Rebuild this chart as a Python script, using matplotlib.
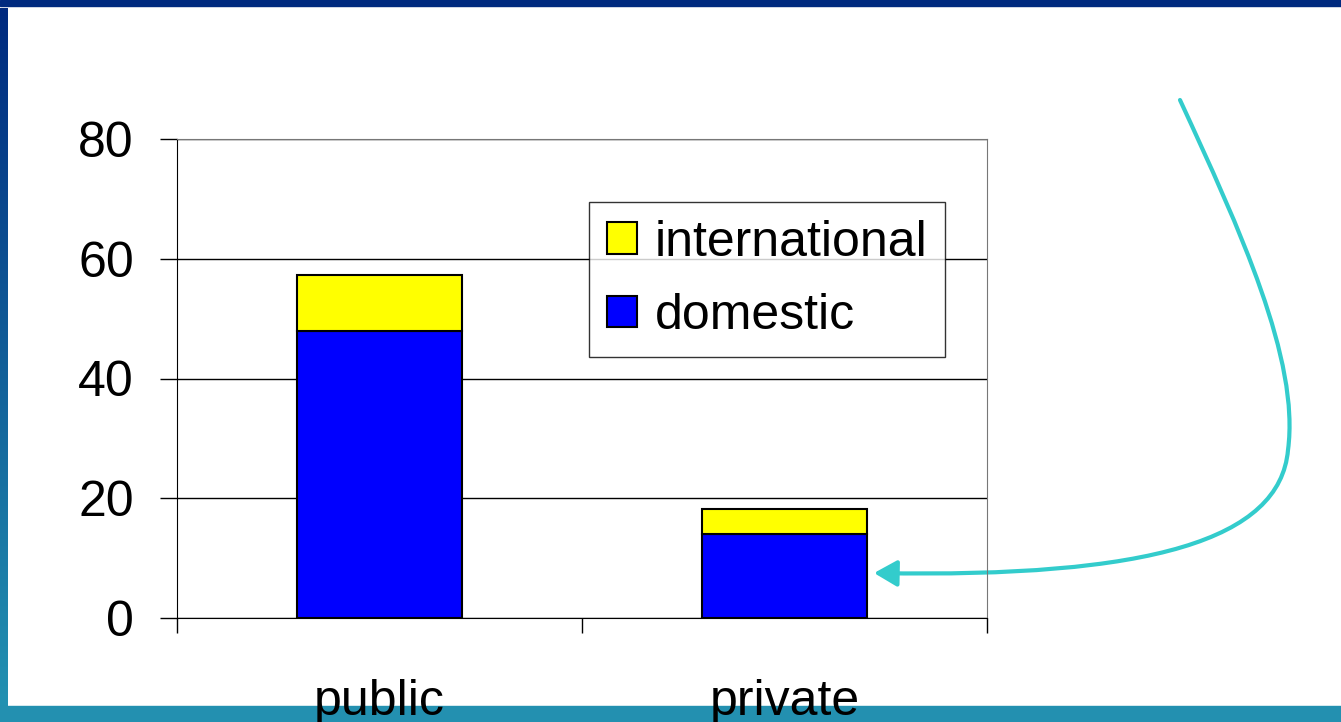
import matplotlib
matplotlib.use("Agg")
import matplotlib.pyplot as plt
import numpy as np
from matplotlib.path import Path
from matplotlib.patches import FancyArrowPatch, Rectangle

plt.rcParams['font.family'] = ['Liberation Sans', 'DejaVu Sans']

# data
categories = ['public', 'private']
domestic = [48.0, 14.0]
international = [9.3, 4.2]
y_ticks = [0, 20, 40, 60, 80]

W, H = 1341, 722
fig = plt.figure(figsize=(W / 100, H / 100), dpi=100)
fig.patch.set_facecolor('white')

def px(x, y):
    # pixel (from top-left) -> figure fraction
    return (x / W, 1 - y / H)

# slide decoration: left gradient bar, top and bottom bars
grad = fig.add_axes([0, 14 / H, 8 / W, 1 - 22 / H])
g = np.linspace(0, 1, 256).reshape(-1, 1)
cmap = matplotlib.colors.LinearSegmentedColormap.from_list('slide', ['#002a7f', '#2392b2'])
grad.imshow(g, aspect='auto', cmap=cmap, extent=[0, 1, 0, 1])
grad.set_axis_off()
fig.patches.append(Rectangle((0, 1 - 6 / H), 1, 6 / H, transform=fig.transFigure,
                             color='#002a7f', zorder=0))
fig.patches.append(Rectangle((0, 0), 1, 16 / H, transform=fig.transFigure,
                             color='#2390b0', zorder=0))

# chart
x0, y0 = px(177, 618)
x1, y1 = px(987, 139)
ax = fig.add_axes([x0, y0, x1 - x0, y1 - y0])
ax.set_zorder(2)
ax.patch.set_alpha(0)
x = np.arange(len(categories))
ax.bar(x, domestic, width=0.405, color='#0000ff', edgecolor='black', linewidth=1.5,
       label='domestic', zorder=3)
ax.bar(x, international, width=0.405, bottom=domestic, color='#ffff00', edgecolor='black',
       linewidth=1.5, label='international', zorder=3)

ax.set_xlim(-0.5, 1.5)
ax.set_ylim(0, 80)
ax.set_yticks(y_ticks)
ax.yaxis.grid(True, color='black', linewidth=1)
ax.set_axisbelow(True)
ax.tick_params(axis='y', direction='out', length=12, width=1, pad=19, labelsize=36)
ax.set_xticks(x)
ax.set_xticklabels(categories)
ax.set_xticks([-0.5, 0.5, 1.5], minor=True)
ax.tick_params(axis='x', which='major', length=0, pad=44, labelsize=36)
ax.tick_params(axis='x', which='minor', direction='out', length=11, width=1)
for s in ['left', 'bottom']:
    ax.spines[s].set_color('black')
for s in ['top', 'right']:
    ax.spines[s].set_color('#777777')

h, l = ax.get_legend_handles_labels()
leg = ax.legend(h[::-1], l[::-1], loc='upper left', bbox_to_anchor=(0.509, 0.868),
                fontsize=36, frameon=True, fancybox=False, handlelength=0.6,
                handleheight=0.6, handletextpad=0.36, borderpad=0.35, labelspacing=0.55,
                borderaxespad=0)
leg.get_frame().set_edgecolor('black')
leg.get_frame().set_linewidth(1)

# cyan curved arrow
pts = [px(1180, 100), px(1240, 230), px(1300, 360), px(1288, 450),
       px(1280, 540), px(1150, 578), px(874, 573)]
codes = [Path.MOVETO] + [Path.CURVE4] * 6
arrow = FancyArrowPatch(path=Path(pts, codes), arrowstyle='-|>,head_length=0.7,head_width=0.4',
                        mutation_scale=20, color='#33cccc', linewidth=3,
                        transform=fig.transFigure)
fig.patches.append(arrow)

fig.savefig('out.png', dpi=100)
